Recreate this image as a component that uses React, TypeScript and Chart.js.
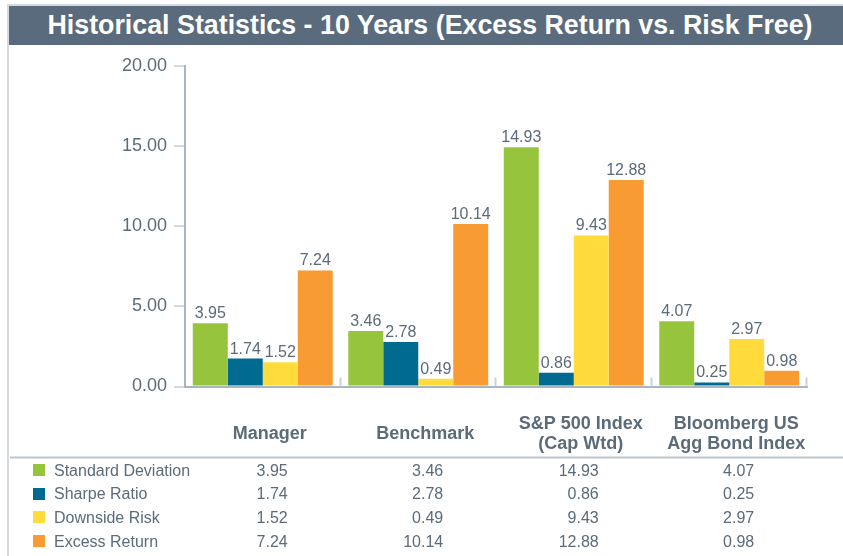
import React, { useEffect, useRef } from "react";
import { Chart, registerables } from "chart.js";

Chart.register(...registerables);

const TITLE = "Historical Statistics - 10 Years (Excess Return vs. Risk Free)";
const categories: string[][] = [
  ["Manager"],
  ["Benchmark"],
  ["S&P 500 Index", "(Cap Wtd)"],
  ["Bloomberg US", "Agg Bond Index"],
];
const seriesNames = ["Standard Deviation", "Sharpe Ratio", "Downside Risk", "Excess Return"];
const standardDeviation = [3.95, 3.46, 14.93, 4.07];
const sharpeRatio = [1.74, 2.78, 0.86, 0.25];
const downsideRisk = [1.52, 0.49, 9.43, 2.97];
const excessReturn = [7.24, 10.14, 12.88, 0.98];
const seriesColors = ["#96c43d", "#006a91", "#ffdc3c", "#f99b33"];
const yTicks = [0, 5, 10, 15, 20];

const FONT = '"Liberation Sans", Arial, Helvetica, sans-serif';
const SLATE = "#5b6b7a";

const overlayPlugin = {
  id: "overlay",
  afterDatasetsDraw(chart: any) {
    const ctx = chart.ctx as CanvasRenderingContext2D;
    const xs = chart.scales.x;
    const area = chart.chartArea;
    const n = categories.length;
    const catW = (area.right - area.left) / n;
    ctx.save();
    // category divider ticks (upward)
    ctx.strokeStyle = "#cdd2d7";
    ctx.lineWidth = 2;
    for (let i = 1; i <= n; i++) {
      const px = Math.round(area.left + catW * i) - 0.5;
      ctx.beginPath();
      ctx.moveTo(px, area.bottom);
      ctx.lineTo(px, area.bottom - 9);
      ctx.stroke();
    }
    // data labels
    ctx.fillStyle = SLATE;
    ctx.font = `16px ${FONT}`;
    ctx.textAlign = "center";
    ctx.textBaseline = "alphabetic";
    chart.data.datasets.forEach((ds: any, di: number) => {
      const meta = chart.getDatasetMeta(di);
      meta.data.forEach((bar: any, i: number) => {
        ctx.fillText(Number(ds.data[i]).toFixed(2), bar.x, bar.y - 5);
      });
    });
    // category labels
    ctx.font = `bold 18px ${FONT}`;
    ctx.fillStyle = SLATE;
    categories.forEach((lines, i) => {
      const cx = xs.getPixelForValue(i) + 7;
      const mid = area.bottom + 52;
      const lh = 20;
      const start = mid - ((lines.length - 1) * lh) / 2;
      lines.forEach((t, li) => ctx.fillText(t, cx, start + li * lh));
    });
    // separator line
    ctx.fillStyle = "#bcc5cd";
    ctx.fillRect(10, area.bottom + 70, chart.width - 10, 2);
    // table rows
    const rowTop = area.bottom + 83.5;
    const rowH = 23.7;
    chart.data.datasets.forEach((ds: any, di: number) => {
      const cy = rowTop + di * rowH;
      ctx.fillStyle = seriesColors[di];
      ctx.fillRect(33, Math.round(cy - 6), 12, 12);
      ctx.fillStyle = SLATE;
      ctx.font = `16px ${FONT}`;
      ctx.textAlign = "left";
      ctx.fillText(seriesNames[di], 54, cy + 5.5);
      ctx.textAlign = "right";
      ds.data.forEach((v: number, i: number) => {
        ctx.fillText(Number(v).toFixed(2), xs.getPixelForValue(i) + 25, cy + 5.5);
      });
    });
    ctx.restore();
  },
};

export default function App() {
  const ref = useRef<HTMLCanvasElement | null>(null);
  useEffect(() => {
    if (!ref.current) return;
    const series = [standardDeviation, sharpeRatio, downsideRisk, excessReturn];
    const chart = new Chart(ref.current, {
      type: "bar",
      data: {
        labels: categories.map((c) => c.join(" ")),
        datasets: series.map((d, i) => ({
          label: seriesNames[i],
          data: d,
          backgroundColor: seriesColors[i],
          borderWidth: 0,
          categoryPercentage: 0.9,
          barPercentage: 1.0,
        })),
      },
      options: {
        responsive: false,
        animation: false,
        layout: { padding: { top: 66, right: 36, bottom: 169.5, left: 0 } },
        plugins: { legend: { display: false }, title: { display: false }, tooltip: { enabled: false } },
        scales: {
          x: {
            grid: { display: false },
            border: { display: true, color: "#a9b5c0", width: 2 },
            ticks: { display: false },
            afterFit: (s: any) => {
              s.height = 0;
            },
          },
          y: {
            min: 0,
            max: 20,
            afterBuildTicks: (s: any) => {
              s.ticks = yTicks.map((v) => ({ value: v }));
            },
            grid: { drawOnChartArea: false, drawTicks: true, tickLength: 11, color: "#d6d9dc", lineWidth: 2 },
            border: { display: true, color: "#a9b5c0", width: 2 },
            ticks: {
              padding: 7,
              color: SLATE,
              font: { family: FONT, size: 18 },
              callback: (v: any) => Number(v).toFixed(2),
            },
            afterFit: (s: any) => {
              s.width = 185;
            },
          },
        },
      },
      plugins: [overlayPlugin],
    });
    return () => chart.destroy();
  }, []);

  return (
    <div style={{ position: "fixed", left: 0, top: 0, width: 843, height: 556, background: "#fff", overflow: "hidden" }}>
      <div style={{ position: "absolute", left: 7, top: 4, width: 836, height: 2, background: "#d5dadf" }} />
      <div style={{ position: "absolute", left: 7, top: 4, width: 2, height: 552, background: "#d5dadf" }} />
      <div
        style={{
          position: "absolute",
          left: 9,
          top: 6,
          width: 834,
          height: 39,
          background: "#596b7c",
          color: "#fff",
          fontFamily: FONT,
          fontWeight: "bold",
          fontSize: 26.8,
          display: "flex",
          alignItems: "center",
          justifyContent: "center",
          paddingLeft: 8,
          boxSizing: "border-box",
          whiteSpace: "nowrap",
        }}
      >
        {TITLE}
      </div>
      <canvas ref={ref} width={843} height={556} style={{ position: "absolute", left: 0, top: 0, width: 843, height: 556 }} />
    </div>
  );
}
